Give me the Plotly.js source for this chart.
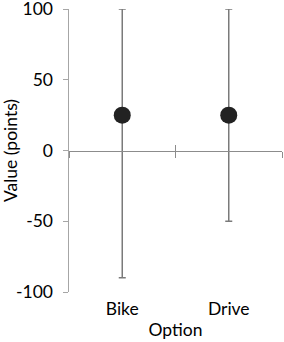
<!DOCTYPE html>
<html>
<head>
<meta charset="utf-8">
<script src="https://cdn.plot.ly/plotly-3.0.1.min.js"></script>
<style>html,body{margin:0;padding:0;background:#fff;}#chart{width:284px;height:342px;}</style>
</head>
<body>
<div id="chart"></div>
<script>
const categories = ["Bike", "Drive"];
const values = [25, 25];
const upper = [100, 100];
const lower = [-90, -50];
const yTicks = [-100, -50, 0, 50, 100];

const errPlus = values.map((v, i) => upper[i] - v);
const errMinus = values.map((v, i) => v - lower[i]);

const fontFam = "Lato, 'Open Sans', sans-serif";
const fs = 17.5;

const main = {
  type: "scatter", mode: "markers",
  x: categories, y: values,
  marker: { size: 17, color: "#222222" },
  error_y: { type: "data", symmetric: false, array: errPlus, arrayminus: errMinus,
             color: "#7a7a7a", thickness: 1.5, width: 3.5 },
  hoverinfo: "skip", showlegend: false, xaxis: "x", yaxis: "y"
};
const ghost2 = { type: "scatter", mode: "markers", x: categories, y: values,
  marker: { opacity: 0 }, hoverinfo: "skip", showlegend: false, xaxis: "x2", yaxis: "y" };
const ghost3 = { type: "scatter", mode: "markers", x: categories, y: values,
  marker: { opacity: 0 }, hoverinfo: "skip", showlegend: false, xaxis: "x3", yaxis: "y" };

const xLineAxis = (ticks) => ({
  type: "category", categoryarray: categories, range: [-0.5, 1.5],
  overlaying: "x", anchor: "free", position: 0.5,
  showline: true, linecolor: "#8c8c8c", linewidth: 1,
  ticks: ticks, tickson: "boundaries", ticklen: 6, tickcolor: "#8c8c8c", tickwidth: 1,
  showticklabels: false, showgrid: false, zeroline: false
});

const layout = {
  width: 284, height: 342,
  margin: { l: 69, r: 2, t: 9, b: 50 },
  paper_bgcolor: "#fff", plot_bgcolor: "#fff",
  font: { family: fontFam, size: fs, color: "#000" },
  showlegend: false,
  xaxis: {
    type: "category", categoryarray: categories, range: [-0.5, 1.5],
    showline: false, ticks: "", showgrid: false, zeroline: false,
    ticklabelstandoff: 4,
    tickfont: { family: fontFam, size: fs, color: "#000" },
    title: { text: "Option", font: { family: fontFam, size: fs, color: "#000" }, standoff: 6 }
  },
  xaxis2: xLineAxis("outside"),
  xaxis3: xLineAxis("inside"),
  yaxis: {
    range: [-100, 100], tickvals: yTicks, ticktext: yTicks.map(String),
    showline: true, linecolor: "#a6a6a6", linewidth: 1.5,
    ticks: "outside", ticklen: 5, tickcolor: "#a6a6a6",
    ticklabelstandoff: 6, ticklabeloverflow: "allow",
    showgrid: false, zeroline: false,
    tickfont: { family: fontFam, size: fs, color: "#000" },
    title: { text: "Value (points)", font: { family: fontFam, size: fs, color: "#000" }, standoff: 6 }
  }
};

Plotly.newPlot("chart", [ghost2, ghost3, main], layout, { displayModeBar: false, staticPlot: true });
</script>
</body>
</html>
